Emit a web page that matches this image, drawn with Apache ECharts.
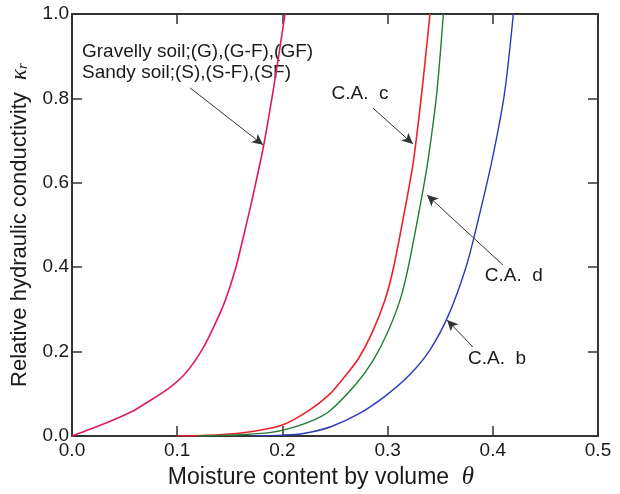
<!DOCTYPE html>
<html>
<head>
<meta charset="utf-8">
<script src="https://cdn.jsdelivr.net/npm/echarts@6/dist/echarts.min.js"></script>
<style>html,body{margin:0;padding:0;background:#fff}#c{width:620px;height:494px}</style>
</head>
<body>
<div id="c"></div>
<script>
// Tick values
var xTicks = [0, 0.1, 0.2, 0.3, 0.4, 0.5];
var yTicks = [0, 0.2, 0.4, 0.6, 0.8, 1.0];

// Curves [theta, kr]
var gravelly = [[0,0],[0.0317,0.030],[0.057,0.058],[0.0697,0.077],[0.0919,0.113],[0.1077,0.148],[0.1236,0.204],[0.1363,0.267],[0.1458,0.322],[0.1553,0.395],[0.1635,0.478],[0.1711,0.559],[0.182,0.686],[0.192,0.830],[0.2025,1.0]];
var caC = [[0.10,0.0],[0.14,0.003],[0.17,0.010],[0.20,0.026],[0.225,0.060],[0.2452,0.100],[0.258,0.137],[0.2722,0.183],[0.285,0.243],[0.2975,0.322],[0.3058,0.401],[0.3181,0.559],[0.3245,0.650],[0.3324,0.812],[0.3403,1.0]];
var caD = [[0.12,0.0],[0.16,0.003],[0.188,0.008],[0.207,0.018],[0.229,0.037],[0.2452,0.060],[0.2706,0.125],[0.2864,0.180],[0.2995,0.243],[0.3118,0.322],[0.3197,0.401],[0.332,0.560],[0.3385,0.655],[0.3467,0.812],[0.353,1.0]];
var caB = [[0.17,0.0],[0.20,0.002],[0.22,0.006],[0.246,0.022],[0.2738,0.054],[0.298,0.095],[0.321,0.145],[0.3403,0.204],[0.3585,0.290],[0.3745,0.400],[0.384,0.490],[0.399,0.650],[0.411,0.810],[0.4195,1.0]];

// Annotation texts (data coordinates)
var notesLeft = [
  {text: 'Gravelly soil;(G),(G-F),(GF)', x: 0.0095, y: 0.910},
  {text: 'Sandy soil;(S),(S-F),(SF)', x: 0.0095, y: 0.860}
];
var notesCenter = [
  {text: 'C.A.  c', x: 0.2738, y: 0.810},
  {text: 'C.A.  d', x: 0.420, y: 0.379},
  {text: 'C.A.  b', x: 0.404, y: 0.182}
];
// Arrows [from, to]
var arrows = [
  [[0.1122,0.825],[0.1816,0.690]],
  [[0.2861,0.777],[0.3241,0.692]],
  [[0.4097,0.405],[0.3375,0.571]],
  [[0.381,0.211],[0.3565,0.275]]
];

var FONT = 'Liberation Sans, Arial, sans-serif';
var chart = echarts.init(document.getElementById('c'));

function axisCommon(extra){
  return Object.assign({
    type: 'value',
    axisLine: {show: true, onZero: false, lineStyle: {color: '#333', width: 2}},
    axisTick: {show: true, inside: true, length: 10, lineStyle: {color: '#333', width: 1.5}},
    splitLine: {show: false}
  }, extra);
}

var labelBase = {fontSize: 19, color: '#1a1a1a', fontFamily: FONT, opacity: 1, textBorderWidth: 0};

var option = {
  backgroundColor: '#fff',
  animation: false,
  grid: {left: 72, right: 22, top: 14, bottom: 58, containLabel: false, outerBoundsMode: 'none'},
  xAxis: [
    axisCommon({
      min: xTicks[0], max: xTicks[xTicks.length-1], interval: 0.1, position: 'bottom',
      axisLabel: {fontSize: 19, color: '#1a1a1a', fontFamily: FONT, margin: 5, formatter: function(v){return v.toFixed(1);}},
      name: 'Moisture content by volume  {t|θ}', nameLocation: 'middle', nameGap: 28,
      nameTextStyle: {fontSize: 23, color: '#1a1a1a', fontFamily: FONT, padding: [0, 28, 0, 0],
        rich: {t: {fontSize: 25, fontStyle: 'italic', fontFamily: 'Liberation Serif, serif', color: '#1a1a1a'}}}
    }),
    axisCommon({
      min: xTicks[0], max: xTicks[xTicks.length-1], interval: 0.1, position: 'top',
      axisLabel: {show: false}
    })
  ],
  yAxis: [
    axisCommon({
      min: yTicks[0], max: yTicks[yTicks.length-1], interval: 0.2, position: 'left',
      axisLabel: {fontSize: 19, color: '#1a1a1a', fontFamily: FONT, margin: 3, formatter: function(v){return v.toFixed(1);}},
      name: 'Relative hydraulic conductivity  {k|κ}{r|r}', nameLocation: 'middle', nameGap: 41,
      nameTextStyle: {fontSize: 22, color: '#1a1a1a', fontFamily: FONT,
        rich: {k: {fontSize: 23, fontStyle: 'italic', fontFamily: 'Liberation Serif, serif', color: '#1a1a1a'},
               r: {fontSize: 15, fontStyle: 'italic', fontFamily: 'Liberation Serif, serif', color: '#1a1a1a', padding: [8, 0, 0, 0]}}}
    }),
    axisCommon({
      min: yTicks[0], max: yTicks[yTicks.length-1], interval: 0.2, position: 'right',
      axisLabel: {show: false}
    })
  ],
  series: [
    {type: 'line', data: gravelly, showSymbol: false, smooth: 0.3, lineStyle: {color: '#e0186c', width: 1.6}},
    {type: 'line', data: caC, showSymbol: false, smooth: 0.3, lineStyle: {color: '#f0202a', width: 1.6}},
    {type: 'line', data: caD, showSymbol: false, smooth: 0.3, lineStyle: {color: '#1f7d34', width: 1.4}},
    {type: 'line', data: caB, showSymbol: false, smooth: 0.3, lineStyle: {color: '#2a3ab8', width: 1.4}},
    {type: 'scatter', symbolSize: 0, silent: true, itemStyle: {opacity: 1, color: '#000'},
      data: notesLeft.map(function(n){return {value: [n.x, n.y], name: n.text};}),
      label: Object.assign({show: true, position: 'right', distance: 0, formatter: '{b}'}, labelBase)},
    {type: 'scatter', symbolSize: 0, silent: true, itemStyle: {opacity: 1, color: '#000'},
      data: notesCenter.map(function(n){return {value: [n.x, n.y], name: n.text};}),
      label: Object.assign({show: true, position: 'inside', formatter: '{b}'}, labelBase),
      markLine: {silent: true, symbol: ['none', 'arrow'], symbolSize: [8, 11], label: {show: false},
        lineStyle: {color: '#333', width: 1, type: 'solid', opacity: 1},
        data: arrows.map(function(a){return [{coord: a[0]}, {coord: a[1]}];})}}
  ]
};
chart.setOption(option);
</script>
</body>
</html>
